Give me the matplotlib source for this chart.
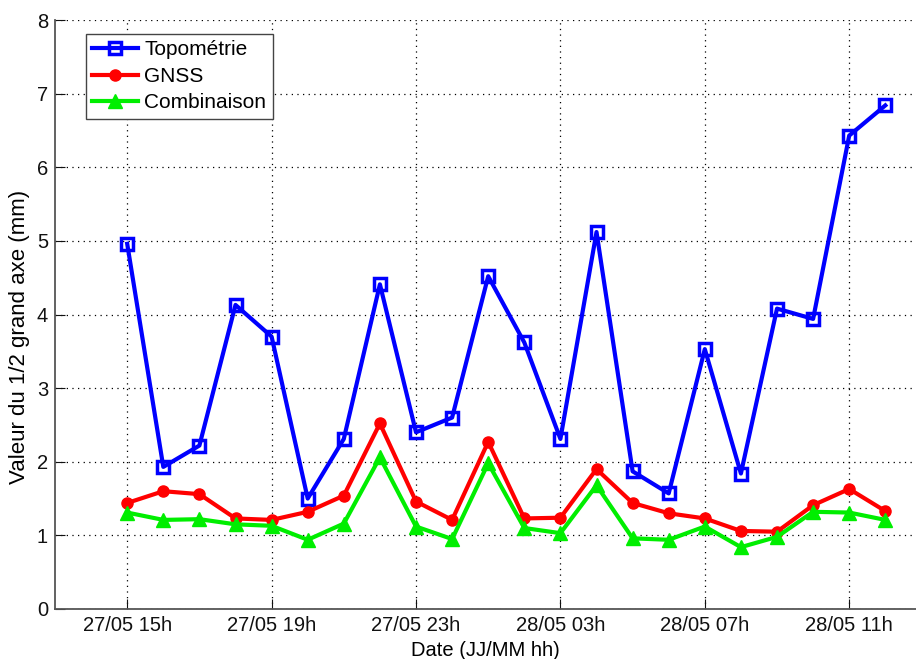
import numpy as np
import matplotlib.pyplot as plt

plt.rcParams['font.family'] = ['Liberation Sans', 'DejaVu Sans']

# hourly samples from 27/05 15h to 28/05 12h
hours = np.arange(22)
tick_pos = [0, 4, 8, 12, 16, 20]
tick_labels = ['27/05 15h', '27/05 19h', '27/05 23h', '28/05 03h', '28/05 07h', '28/05 11h']

topo = [4.96, 1.93, 2.22, 4.13, 3.70, 1.50, 2.31, 4.41, 2.40, 2.60, 4.52,
        3.62, 2.31, 5.12, 1.87, 1.57, 3.53, 1.84, 4.08, 3.94, 6.43, 6.84]
gnss = [1.44, 1.60, 1.56, 1.23, 1.21, 1.32, 1.54, 2.52, 1.46, 1.21, 2.27,
        1.23, 1.24, 1.90, 1.44, 1.30, 1.23, 1.06, 1.05, 1.41, 1.63, 1.33]
comb = [1.31, 1.21, 1.22, 1.15, 1.13, 0.94, 1.16, 2.06, 1.12, 0.95, 1.98,
        1.10, 1.03, 1.68, 0.96, 0.94, 1.12, 0.84, 0.98, 1.32, 1.31, 1.21]

fig = plt.figure(figsize=(9.16, 6.59), dpi=100)
ax = fig.add_axes([55/916, 50/659, 1 - 55/916, 589/659])

ax.plot(hours, topo, color='blue', lw=3, marker='s', ms=9, mfc='none', mew=2.5, label='Topométrie')
ax.plot(hours, gnss, color='red', lw=3, marker='o', ms=8, label='GNSS')
ax.plot(hours, comb, color='#00ee00', lw=3, marker='^', ms=10, label='Combinaison')

ax.set_xlim(-2, 21.85)
ax.set_ylim(0, 8)
ax.set_xticks(tick_pos)
ax.set_xticklabels(tick_labels)
ax.set_yticks(range(9))
ax.tick_params(direction='in', length=7, labelsize=14.5, colors='#111111', pad=5)
ax.grid(True, linestyle=(0, (1, 3.5)), color='black', lw=0.9)
ax.spines['top'].set_visible(False)
ax.spines['right'].set_visible(False)
for s in ['left', 'bottom']:
    ax.spines[s].set_color('#555555')
    ax.spines[s].set_linewidth(1.3)

ax.set_xlabel('Date (JJ/MM hh)', fontsize=14.5)
ax.xaxis.set_label_coords(0.5, -0.055)
ax.set_ylabel('Valeur du 1/2 grand axe (mm)', fontsize=16)
ax.yaxis.set_label_coords(-0.029, 0.462)

leg = ax.legend(loc='upper left', bbox_to_anchor=(0.036, 0.976), fontsize=15,
                fancybox=False, framealpha=1, edgecolor='#444444',
                handlelength=2.2, borderpad=0.3, labelspacing=0.36,
                handletextpad=0.3, borderaxespad=0)
leg.get_frame().set_linewidth(1.0)

fig.savefig('out.png', dpi=100)
